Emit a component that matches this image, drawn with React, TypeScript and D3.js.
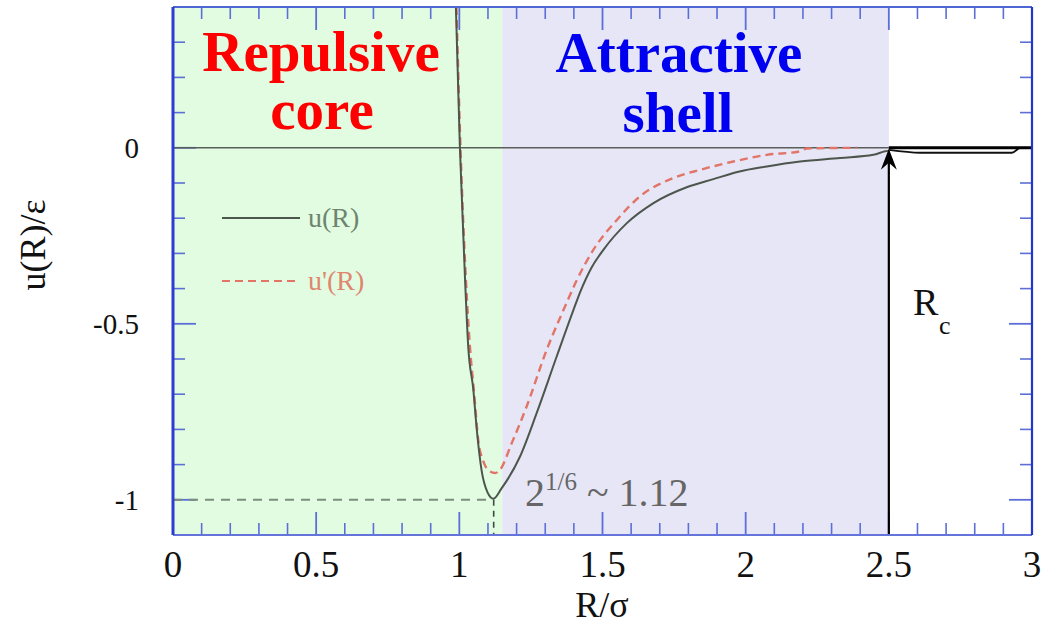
import React from "react";
import * as d3 from "d3";

const solidX = [0.988, 1.002, 1.020, 1.031, 1.049, 1.061, 1.078, 1.098, 1.119, 1.148, 1.212, 1.270, 1.340, 1.398, 1.422, 1.462, 1.503, 1.585, 1.678, 1.794, 1.887, 1.975, 2.074, 2.190, 2.330, 2.446, 2.487, 2.500];
const solidY = [0.40, 0.0, -0.375, -0.564, -0.688, -0.801, -0.918, -0.978, -0.997, -0.967, -0.877, -0.754, -0.593, -0.462, -0.410, -0.340, -0.290, -0.214, -0.157, -0.112, -0.089, -0.068, -0.053, -0.039, -0.029, -0.020, -0.010, -0.008];

const dashX = [0.990, 1.004, 1.023, 1.037, 1.052, 1.066, 1.084, 1.105, 1.125, 1.142, 1.183, 1.235, 1.305, 1.375, 1.405, 1.468, 1.550, 1.631, 1.747, 1.841, 1.957, 2.074, 2.190, 2.213, 2.388];
const dashY = [0.40, 0.0, -0.375, -0.564, -0.700, -0.830, -0.891, -0.918, -0.924, -0.915, -0.839, -0.735, -0.574, -0.440, -0.385, -0.290, -0.205, -0.138, -0.086, -0.0625, -0.039, -0.020, -0.010, -0.002, 0.0];

const tailX = [2.5, 2.61, 2.93, 2.96, 3.0];
const tailY = [-0.006, -0.014, -0.014, 0.0, 0.0];

const regionStart = [0, 1.15];
const regionEnd = [1.15, 2.5];
const regionFill = ["#e2fce2", "#e6e6f6"];

const xMajorTicks = [0, 0.5, 1, 1.5, 2, 2.5, 3];
const xTickLabels = ["0", "0.5", "1", "1.5", "2", "2.5", "3"];
const yMajorTicks = [0, -0.5, -1];
const yTickLabels = ["0", "-0.5", "-1"];

const rMin = 1.12;
const uMin = -1;
const rCut = 2.5;

const xDomain = [0, 3];
const yDomain = [-1.1, 0.4];

const FONT = '"Liberation Serif", "Times New Roman", Times, "DejaVu Serif", "Noto Serif", serif';

export default function App() {
  const left = 173, right = 1032, top = 7, bottom = 535;
  const x = d3.scaleLinear().domain(xDomain).range([left, right]);
  const y = d3.scaleLinear().domain(yDomain).range([bottom, top]);

  const line = d3
    .line<[number, number]>()
    .x((d) => x(d[0]))
    .y((d) => y(d[1]))
    .curve(d3.curveMonotoneX);

  const solidPts: [number, number][] = solidX.map((v, i) => [v, solidY[i]]);
  const dashPts: [number, number][] = dashX.map((v, i) => [v, dashY[i]]);
  const tailPts: [number, number][] = tailX.map((v, i) => [v, tailY[i]]);

  const xMinor = d3.range(0, 31).map((i) => i / 10).filter((v) => Math.abs(v * 2 - Math.round(v * 2)) > 1e-6);
  const yMinor = d3.range(-11, 5).map((i) => i / 10).filter((v) => Math.abs(v * 2 - Math.round(v * 2)) > 1e-6 && v > -1.1 && v < 0.4);

  const tickColor = "#5b6fd6";
  const major = 23;
  const minor = 12;

  return (
    <svg
      width={1041}
      height={625}
      style={{ position: "absolute", left: 0, top: 0, background: "#fff", fontFamily: FONT }}
    >
      <defs>
        <clipPath id="plot">
          <rect x={left} y={top} width={right - left} height={bottom - top} />
        </clipPath>
      </defs>

      {regionStart.map((s, i) => (
        <rect
          key={"r" + i}
          x={x(s)}
          y={top}
          width={x(regionEnd[i]) - x(s)}
          height={bottom - top}
          fill={regionFill[i]}
        />
      ))}

      {xMinor.map((v) => (
        <g key={"xm" + v}>
          <line x1={x(v)} x2={x(v)} y1={bottom} y2={bottom - minor} stroke={tickColor} strokeWidth={1.6} />
          <line x1={x(v)} x2={x(v)} y1={top} y2={top + minor} stroke={tickColor} strokeWidth={1.6} />
        </g>
      ))}
      {xMajorTicks.map((v) => (
        <g key={"xM" + v}>
          <line x1={x(v)} x2={x(v)} y1={bottom} y2={bottom - major} stroke={tickColor} strokeWidth={1.8} />
          <line x1={x(v)} x2={x(v)} y1={top} y2={top + major} stroke={tickColor} strokeWidth={1.8} />
        </g>
      ))}
      {yMinor.map((v) => (
        <g key={"ym" + v}>
          <line x1={left} x2={left + minor} y1={y(v)} y2={y(v)} stroke={tickColor} strokeWidth={1.6} />
          <line x1={right} x2={right - minor} y1={y(v)} y2={y(v)} stroke={tickColor} strokeWidth={1.6} />
        </g>
      ))}
      {yMajorTicks.map((v) => (
        <g key={"yM" + v}>
          <line x1={left} x2={left + major} y1={y(v)} y2={y(v)} stroke={tickColor} strokeWidth={1.8} />
          <line x1={right} x2={right - major} y1={y(v)} y2={y(v)} stroke={tickColor} strokeWidth={1.8} />
        </g>
      ))}

      <line x1={x(0)} x2={x(rCut)} y1={y(0)} y2={y(0)} stroke="#5a5f5a" strokeWidth={1.6} />

      <line x1={x(0)} x2={x(rMin)} y1={y(uMin)} y2={y(uMin)} stroke="#7d8c7d" strokeWidth={2} strokeDasharray="9 7" />
      <line x1={x(rMin)} x2={x(rMin)} y1={y(uMin)} y2={bottom} stroke="#3f4a3f" strokeWidth={1.6} strokeDasharray="6 5" />

      <g clipPath="url(#plot)">
        <path d={line(dashPts) || ""} fill="none" stroke="#e27468" strokeWidth={2.4} strokeDasharray="8 5" />
        <path d={line(solidPts) || ""} fill="none" stroke="#4c564c" strokeWidth={2} />
      </g>

      <path d={line(tailPts) || ""} fill="none" stroke="#111" strokeWidth={1.8} />
      <line x1={x(rCut)} x2={right} y1={y(0)} y2={y(0)} stroke="#000" strokeWidth={3} />

      <line x1={x(rCut)} x2={x(rCut)} y1={bottom} y2={y(0) + 10} stroke="#000" strokeWidth={2.2} />
      <path
        d={`M${x(rCut)},${y(0) + 1} L${x(rCut) + 8},${y(0) + 22} L${x(rCut)},${y(0) + 15} L${x(rCut) - 8},${y(0) + 22} Z`}
        fill="#000"
      />
      <text x={913} y={315} fontSize={38} fill="#111">R</text>
      <text x={939} y={334} fontSize={26} fill="#111">c</text>

      <line x1={left} x2={right} y1={top} y2={top} stroke="#4d66d4" strokeWidth={2.2} />
      <line x1={left} x2={right} y1={bottom} y2={bottom} stroke="#6474da" strokeWidth={2.2} />
      <line x1={right} x2={right} y1={top} y2={bottom} stroke="#2336cc" strokeWidth={2.2} />
      <line x1={left} x2={left} y1={top} y2={bottom} stroke="#2b3ed2" strokeWidth={3} />

      <text x={321} y={71} fontSize={57} fontWeight="bold" fill="#ff0000" textAnchor="middle">Repulsive</text>
      <text x={322} y={129} fontSize={57} fontWeight="bold" fill="#ff0000" textAnchor="middle">core</text>
      <text x={679} y={72} fontSize={57} fontWeight="bold" fill="#0000f0" textAnchor="middle">Attractive</text>
      <text x={678} y={132} fontSize={57} fontWeight="bold" fill="#0000f0" textAnchor="middle">shell</text>

      <line x1={222} x2={300} y1={218} y2={218} stroke="#4c564c" strokeWidth={2} />
      <text x={308} y={227} fontSize={28} fill="#6e846e">u(R)</text>
      <line x1={222} x2={300} y1={281} y2={281} stroke="#e27468" strokeWidth={2.2} strokeDasharray="8 5" />
      <text x={308} y={290} fontSize={28} fill="#e0866e">u'(R)</text>

      <text x={525} y={506} fontSize={40} fill="#666">
        2<tspan fontSize={25} dy={-16}>1/6</tspan>
        <tspan dy={16}> ~ 1.12</tspan>
      </text>

      {xMajorTicks.map((v, i) => (
        <text key={"xl" + v} x={x(v)} y={577} fontSize={37} textAnchor="middle" fill="#111">
          {xTickLabels[i]}
        </text>
      ))}
      {yMajorTicks.map((v, i) => (
        <text key={"yl" + v} x={139} y={y(v) + 10} fontSize={29} textAnchor="end" fill="#111">
          {yTickLabels[i]}
        </text>
      ))}

      <text x={602} y={617} fontSize={36} textAnchor="middle" fill="#111">R/σ</text>
      <text transform="translate(45,245) rotate(-90)" fontSize={36} textAnchor="middle" fill="#111">u(R)/ε</text>
    </svg>
  );
}
